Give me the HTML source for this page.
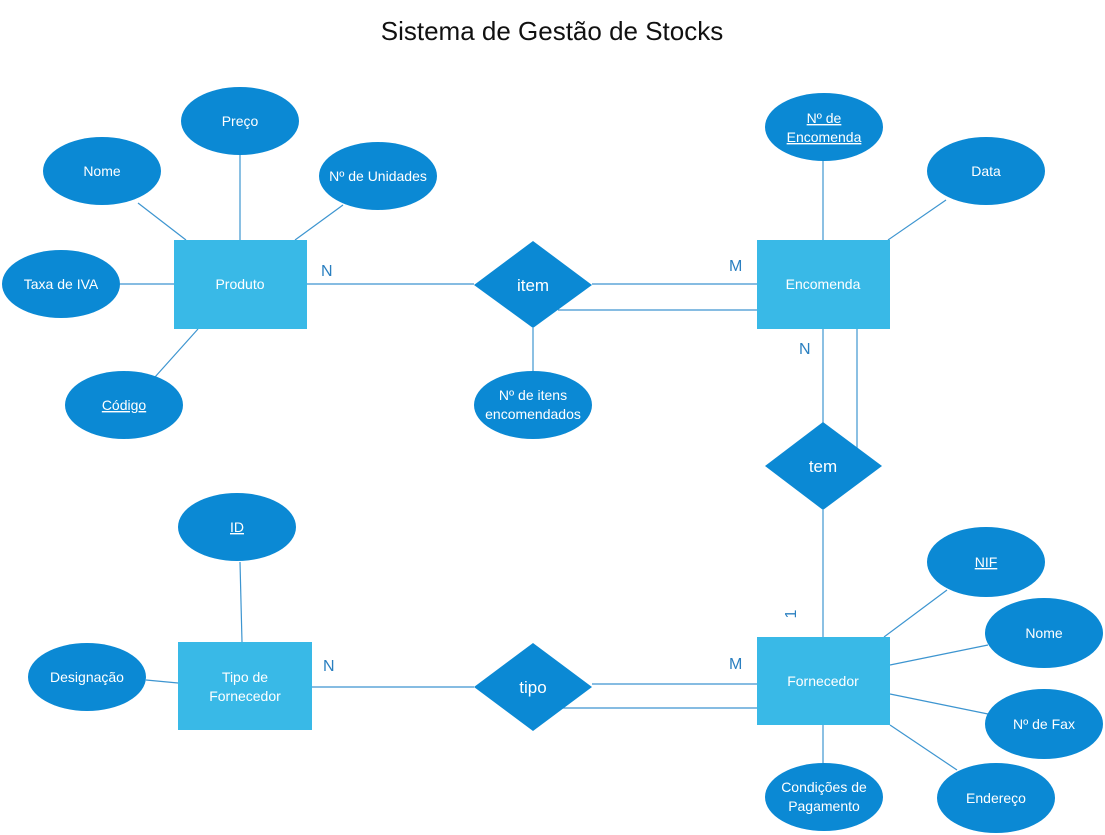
<!DOCTYPE html>
<html><head><meta charset="utf-8"><style>
html,body{margin:0;padding:0;background:#fff;}
svg{display:block;}
text{font-family:"Liberation Sans","DejaVu Sans",sans-serif;}
</style></head><body>
<svg width="1105" height="835" viewBox="0 0 1105 835" xmlns="http://www.w3.org/2000/svg">
<rect width="1105" height="835" fill="#fff"/>
<text x="552" y="40" font-size="26" text-anchor="middle" fill="#111">Sistema de Gestão de Stocks</text>
<g stroke="#3d95d0" stroke-width="1.2" fill="none">
<!-- Produto attrs -->
<line x1="240" y1="150" x2="240" y2="240"/>
<line x1="138" y1="203" x2="186" y2="240"/>
<line x1="343" y1="205" x2="295" y2="240"/>
<line x1="120" y1="284" x2="174" y2="284"/>
<line x1="155" y1="377" x2="198" y2="329"/>
<!-- item -->
<line x1="307" y1="284" x2="474" y2="284"/>
<line x1="592" y1="284" x2="757" y2="284"/>
<line x1="558" y1="310" x2="757" y2="310"/>
<line x1="533" y1="328" x2="533" y2="374"/>
<!-- Encomenda attrs -->
<line x1="823" y1="160" x2="823" y2="240"/>
<line x1="946" y1="200" x2="888" y2="240"/>
<!-- tem -->
<line x1="823" y1="329" x2="823" y2="423"/>
<line x1="857" y1="329" x2="857" y2="448"/>
<line x1="823" y1="510" x2="823" y2="637"/>
<!-- Fornecedor attrs -->
<line x1="947" y1="590" x2="884" y2="637"/>
<line x1="988" y1="645" x2="890" y2="665"/>
<line x1="988" y1="714" x2="890" y2="694"/>
<line x1="957" y1="770" x2="890" y2="725"/>
<line x1="823" y1="725" x2="823" y2="765"/>
<!-- tipo -->
<line x1="312" y1="687" x2="474" y2="687"/>
<line x1="592" y1="684" x2="757" y2="684"/>
<line x1="558" y1="708" x2="757" y2="708"/>
<!-- Tipo attrs -->
<line x1="240" y1="562" x2="242" y2="642"/>
<line x1="146" y1="680" x2="178" y2="683"/>
</g>
<g fill="#39b9e7">
<rect x="174" y="240" width="133" height="89"/>
<rect x="757" y="240" width="133" height="89"/>
<rect x="178" y="642" width="134" height="88"/>
<rect x="757" y="637" width="133" height="88"/>
</g>
<g fill="#0b89d4">
<polygon points="474,285 533,241 592,285 533,328"/>
<polygon points="765,466 823,422 882,466 823,510"/>
<polygon points="474,687 533,643 592,687 533,731"/>
<ellipse cx="240" cy="121" rx="59" ry="34"/>
<ellipse cx="102" cy="171" rx="59" ry="34"/>
<ellipse cx="378" cy="176" rx="59" ry="34"/>
<ellipse cx="61" cy="284" rx="59" ry="34"/>
<ellipse cx="124" cy="405" rx="59" ry="34"/>
<ellipse cx="533" cy="405" rx="59" ry="34"/>
<ellipse cx="824" cy="127" rx="59" ry="34"/>
<ellipse cx="986" cy="171" rx="59" ry="34"/>
<ellipse cx="237" cy="527" rx="59" ry="34"/>
<ellipse cx="87" cy="677" rx="59" ry="34"/>
<ellipse cx="986" cy="562" rx="59" ry="35"/>
<ellipse cx="1044" cy="633" rx="59" ry="35"/>
<ellipse cx="1044" cy="724" rx="59" ry="35"/>
<ellipse cx="996" cy="798" rx="59" ry="35"/>
<ellipse cx="824" cy="797" rx="59" ry="34"/>
</g>
<g fill="#fff" font-size="14" text-anchor="middle">
<text x="240" y="289">Produto</text>
<text x="823" y="289">Encomenda</text>
<text x="245" y="682">Tipo de</text>
<text x="245" y="701">Fornecedor</text>
<text x="823" y="686">Fornecedor</text>
<text x="533" y="291" font-size="17">item</text>
<text x="823" y="472" font-size="17">tem</text>
<text x="533" y="693" font-size="17">tipo</text>
<text x="240" y="126">Preço</text>
<text x="102" y="176">Nome</text>
<text x="378" y="181">Nº de Unidades</text>
<text x="61" y="289">Taxa de IVA</text>
<text x="124" y="410" text-decoration="underline">Código</text>
<text x="533" y="400">Nº de itens</text>
<text x="533" y="419">encomendados</text>
<text x="824" y="123" text-decoration="underline">Nº de</text>
<text x="824" y="142" text-decoration="underline">Encomenda</text>
<text x="986" y="176">Data</text>
<text x="237" y="532" text-decoration="underline">ID</text>
<text x="87" y="682">Designação</text>
<text x="986" y="567" text-decoration="underline">NIF</text>
<text x="1044" y="638">Nome</text>
<text x="1044" y="729">Nº de Fax</text>
<text x="996" y="803">Endereço</text>
<text x="824" y="792">Condições de</text>
<text x="824" y="811">Pagamento</text>
</g>
<g fill="#2a7fc0" font-size="16">
<text x="321" y="276">N</text>
<text x="729" y="271">M</text>
<text x="799" y="354">N</text>
<text x="323" y="671">N</text>
<text x="729" y="669">M</text>
<text x="0" y="0" transform="translate(796,614) rotate(-90)" text-anchor="middle">1</text>
</g>
</svg>
</body></html>
